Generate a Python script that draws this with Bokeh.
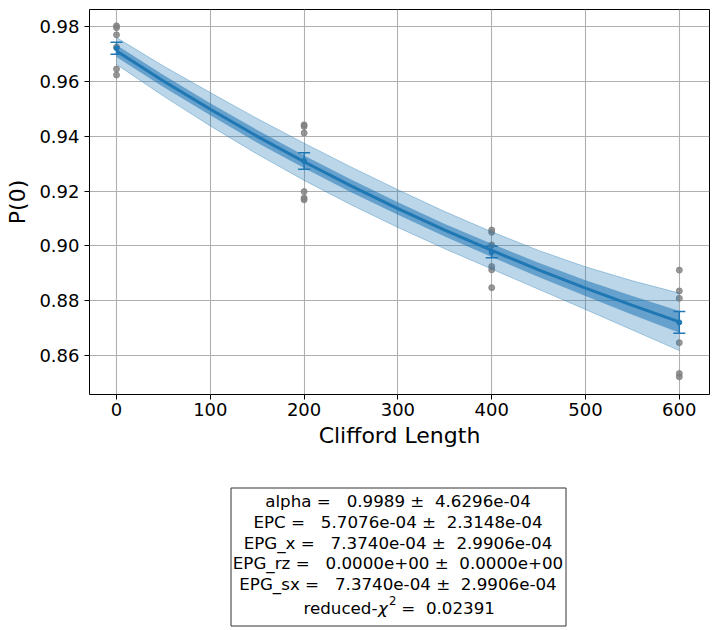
import re
from bokeh.plotting import figure
from bokeh.models import Range1d, FixedTicker, PrintfTickFormatter, ColumnDataSource, Whisker, TeeHead
from bokeh.layouts import column
from bokeh.embed import file_html
from bokeh.resources import INLINE
from bokeh.core.properties import value

# ---------------- data ----------------
lengths = [0, 200, 400, 600]
samples_len0 = [0.9804, 0.9797, 0.9771, 0.9726, 0.9646, 0.9624]
samples_len200 = [0.9442, 0.9436, 0.9412, 0.9198, 0.9175, 0.9168]
samples_len400 = [0.9058, 0.9049, 0.9003, 0.8924, 0.8912, 0.8847]
samples_len600 = [0.8911, 0.8835, 0.8808, 0.8646, 0.8533, 0.8521]
mean_p0 = [0.9722, 0.9310, 0.8977, 0.8720]
mean_err = [0.0022, 0.0030, 0.0021, 0.0040]

fit_x = [0, 50, 100, 150, 200, 250, 300, 350, 400, 450, 500, 550, 600]
fit_y = [0.9712, 0.9602, 0.9499, 0.9400, 0.9307, 0.9219, 0.9136, 0.9057,
         0.8983, 0.8912, 0.8845, 0.8782, 0.8722]
band_inner_hw = [0.0022, 0.0022, 0.0022, 0.0023, 0.0023, 0.0023, 0.0023,
                 0.0023, 0.0024, 0.0026, 0.0029, 0.0034, 0.0040]
band_outer_hw = [0.0049, 0.0055, 0.0061, 0.0065, 0.0068, 0.0069, 0.0069,
                 0.0068, 0.0068, 0.0071, 0.0078, 0.0090, 0.0105]

x_ticks = [0, 100, 200, 300, 400, 500, 600]
y_ticks = [0.86, 0.88, 0.90, 0.92, 0.94, 0.96, 0.98]

stats_lines = [
    "alpha =   0.9989 \u00b1  4.6296e-04",
    "EPC =   5.7076e-04 \u00b1  2.3148e-04",
    "EPG_x =   7.3740e-04 \u00b1  2.9906e-04",
    "EPG_rz =   0.0000e+00 \u00b1  0.0000e+00",
    "EPG_sx =   7.3740e-04 \u00b1  2.9906e-04",
]
chi_prefix = "reduced-"
chi_symbol = "\u03c7"
chi_sup = "2"
chi_value = " =  0.02391"

BLUE = "#1f77b4"
FONT = "DejaVu Sans"


def keep_spaces(s):
    # SVG collapses runs of spaces and trims leading ones; keep their width
    s = re.sub(r" {2,}", lambda m: " " + "\u00a0" * (len(m.group()) - 1), s)
    if s.startswith(" "):
        s = "\u00a0" + s[1:]
    return s


# ---------------- main plot ----------------
p = figure(width=718, height=470,
           x_range=Range1d(-28.8, 632.2), y_range=Range1d(0.84564, 0.98636),
           output_backend="svg", toolbar_location=None,
           min_border_left=89, min_border_right=9, min_border_top=9,
           min_border_bottom=76)

p.outline_line_color = "black"
p.outline_line_width = 1
p.grid.grid_line_color = "#b0b0b0"
p.grid.grid_line_width = 1.1

for ax in (p.xaxis[0], p.yaxis[0]):
    ax.axis_line_color = None
    ax.major_tick_line_color = "black"
    ax.major_tick_out = 5
    ax.major_tick_in = 0
    ax.minor_tick_line_color = None
    ax.major_label_text_font = FONT
    ax.major_label_text_font_size = "18px"
    ax.major_label_text_color = "black"
    ax.axis_label_text_font = FONT
    ax.axis_label_text_font_size = "22px"
    ax.axis_label_text_font_style = "normal"
    ax.axis_label_text_color = "black"

p.xaxis.ticker = FixedTicker(ticks=x_ticks)
p.yaxis.ticker = FixedTicker(ticks=y_ticks)
p.yaxis.formatter = PrintfTickFormatter(format="%.2f")
p.xaxis.axis_label = "Clifford Length"
p.yaxis.axis_label = "P(0)"
p.xaxis.major_label_standoff = 3
p.yaxis.major_label_standoff = 5
p.xaxis.axis_label_standoff = 4
p.yaxis.axis_label_standoff = 6

# raw samples
for L, vals in zip(lengths, [samples_len0, samples_len200, samples_len400, samples_len600]):
    p.scatter([L] * len(vals), vals, size=6, color="gray", alpha=0.8)

# confidence bands
outer_lo = [c - h for c, h in zip(fit_y, band_outer_hw)]
outer_hi = [c + h for c, h in zip(fit_y, band_outer_hw)]
inner_lo = [c - h for c, h in zip(fit_y, band_inner_hw)]
inner_hi = [c + h for c, h in zip(fit_y, band_inner_hw)]
p.varea(x=fit_x, y1=outer_lo, y2=outer_hi, fill_color=BLUE, fill_alpha=0.3)
p.line(fit_x, outer_lo, line_color=BLUE, line_alpha=0.35, line_width=1)
p.line(fit_x, outer_hi, line_color=BLUE, line_alpha=0.35, line_width=1)
p.varea(x=fit_x, y1=inner_lo, y2=inner_hi, fill_color=BLUE, fill_alpha=0.55)

# fit line
p.line(fit_x, fit_y, line_color=BLUE, line_width=3)

# averaged points with error bars
src = ColumnDataSource(dict(
    x=lengths, y=mean_p0,
    lo=[m - e for m, e in zip(mean_p0, mean_err)],
    hi=[m + e for m, e in zip(mean_p0, mean_err)]))
wh = Whisker(base="x", upper="hi", lower="lo", source=src, dimension="height",
             line_color=BLUE, line_width=1.5,
             upper_head=TeeHead(size=12, line_color=BLUE, line_width=1.5),
             lower_head=TeeHead(size=12, line_color=BLUE, line_width=1.5))
p.add_layout(wh)
p.scatter("x", "y", source=src, marker="circle", size=5, color=BLUE)

# ---------------- stats box (page coordinates: x = page x, y = page y - 470) ----------------
q = figure(width=718, height=160, x_range=Range1d(89, 709), y_range=Range1d(160, 0),
           output_backend="svg", toolbar_location=None,
           x_axis_type=None, y_axis_type=None,
           min_border_left=89, min_border_right=9, min_border_top=0, min_border_bottom=0)
q.outline_line_color = None
q.grid.visible = False

q.quad(left=[230.5], right=[565.5], top=[17.5], bottom=[155.5],
       fill_color="white", line_color="#333333", line_width=1)

cx = 397.5
line_y = [30, 51, 72, 92.5, 113.5]
q.text(x=[cx] * len(stats_lines), y=line_y, text=[keep_spaces(s) for s in stats_lines],
       text_align="center", text_baseline="middle",
       text_font=value(FONT), text_font_size=value("16.7px"), text_color="black")

ym = 137.5
q.text(x=[303], y=[ym], text=[chi_prefix], text_align="left", text_baseline="middle",
       text_font=value(FONT), text_font_size=value("16.7px"), text_color="black")
q.text(x=[377.5], y=[ym], text=[chi_symbol], text_align="left", text_baseline="middle",
       text_font=value(FONT), text_font_size=value("16.7px"), text_font_style="italic",
       text_color="black")
q.text(x=[388.5], y=[ym - 8], text=[chi_sup], text_align="left", text_baseline="middle",
       text_font=value(FONT), text_font_size=value("11.7px"), text_color="black")
q.text(x=[395.5], y=[ym], text=[keep_spaces(chi_value)], text_align="left", text_baseline="middle",
       text_font=value(FONT), text_font_size=value("16.7px"), text_color="black")

layout = column(p, q)
open("out.html", "w").write(file_html(layout, INLINE))
